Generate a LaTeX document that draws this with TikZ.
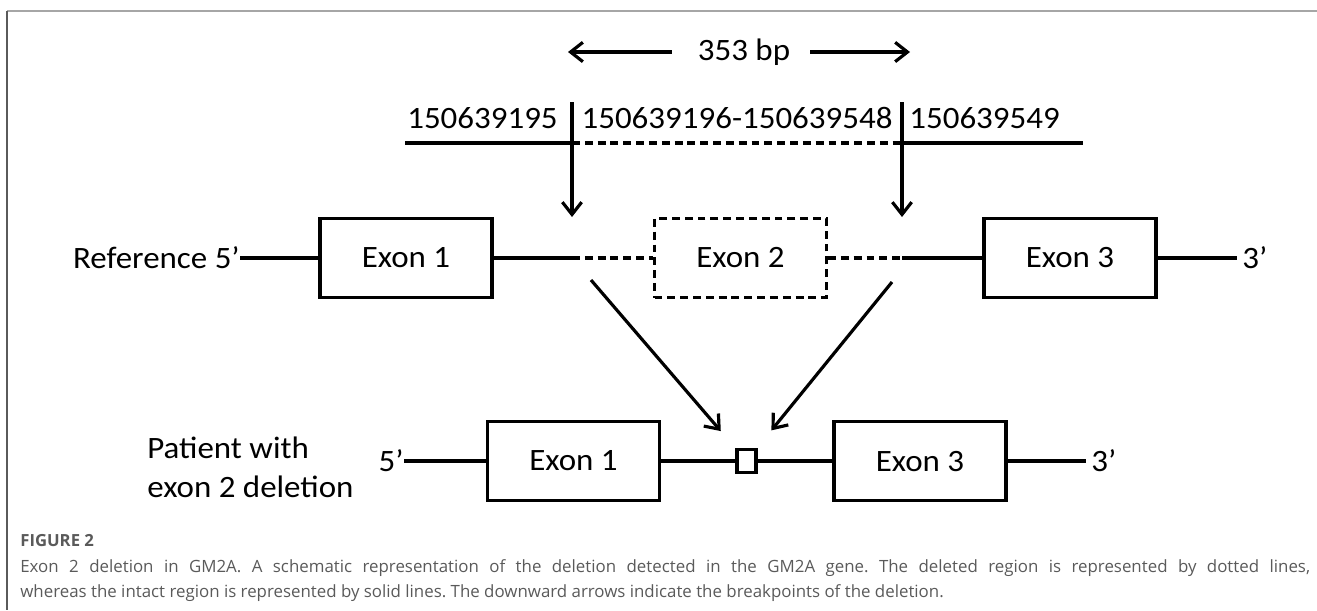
\documentclass[tikz,border=0pt]{standalone}
\usepackage{fontspec}
\setmainfont{Carlito}[FakeStretch=1.06]
\newfontfamily\capfont{Open Sans}
\usetikzlibrary{arrows.meta,positioning}
\newcommand{\exonfont}{\fontsize{17.7}{22}\selectfont}
\definecolor{capgray}{HTML}{5A5A5A}

\begin{document}
\begin{tikzpicture}[x=0.02cm,y=-0.02cm,
  exon/.style={draw,line width=1.8pt,minimum width=3.44cm,minimum height=1.58cm,
               inner sep=0pt,font=\exonfont},
  lost/.style={exon,dash pattern=on 4.5pt off 2.8pt},
  seq/.style={line width=1.8pt},
  gap/.style={seq,dash pattern=on 4.5pt off 2.8pt},
  brk/.style={line width=1.8pt,-{Straight Barb[length=7pt,width=11pt]}},
  lbl/.style={font=\exonfont,inner sep=0pt}
]
\useasboundingbox (0,0) rectangle (1317,610);

% ---- Frame --------------------------------------------------
\draw[gray!70,line width=0.8pt] (7,11) -- (1317,11);
\draw[capgray,line width=0.8pt] (7,11) -- (7,610);

% ---- Span of the deletion -----------------------------------
\node[lbl] (span) at (744,52) {353 bp};
\coordinate (spanL) at (568,52);
\coordinate (spanR) at (910,52);
\draw[brk,shorten <=0.52cm] (span) -- (spanL);
\draw[brk,shorten <=0.4cm] (span) -- (spanR);

% ---- Genomic positions --------------------------------------
\node[lbl,anchor=east] (pos1) at (558,118) {150639195};
\node[lbl] (pos2) at (737,118) {150639196-150639548};
\node[lbl,anchor=west] (pos3) at (909,118) {150639549};
\coordinate (cutL) at (572,102);
\coordinate (cutR) at (902,102);
\coordinate (lineL) at (405,143);
\coordinate (lineR) at (1083,143);
\draw[seq] (lineL) -- (cutL |- lineL);
\draw[gap] (cutL |- lineL) -- (cutR |- lineL);
\draw[seq] (cutR |- lineL) -- (lineR);
\coordinate (tipL) at (572,217);
\coordinate (tipR) at (902,217);
\draw[brk] (cutL) -- (tipL);
\draw[brk] (cutR) -- (tipR);

% ---- Reference ----------------------------------------------
\node[exon] (r1) at (406,258) {Exon 1};
\node[lost] (r2) at (740.5,258) {Exon 2};
\node[exon] (r3) at (1070,258) {Exon 3};
\node[lbl,anchor=east] (ref5) at (240,258) {Reference 5’};
\node[lbl,anchor=west] (ref3) at (1242,258) {3’};
\draw[seq] (ref5) -- (r1);
\draw[seq] (r1) -- (tipL |- r1);
\draw[gap] (tipL |- r1) -- (r2);
\draw[gap] (r2) -- (tipR |- r2);
\draw[seq] (tipR |- r2) -- (r3);
\draw[seq,shorten >=0.1cm] (r3) -- (ref3);

% ---- Patient ------------------------------------------------
\node[exon] (p1) at (573.5,461) {Exon 1};
\node[draw,line width=1.8pt,minimum width=0.38cm,minimum height=0.46cm,
      inner sep=0pt] (del) at (746.5,461) {};
\node[exon] (p3) at (920,461) {Exon 3};
\node[lbl,anchor=east] (pat5) at (404,461) {5’};
\node[lbl,anchor=west] (pat3) at (1091,461) {3’};
\node[lbl,anchor=west,align=left] (pat) at (147,467) {Patient with\\exon 2 deletion};
\draw[seq] (pat5) -- (p1);
\draw[seq] (p1) -- (del);
\draw[seq] (del) -- (p3);
\draw[seq,shorten >=0.1cm] (p3) -- (pat3);

% Joining arrows
\coordinate (dropL) at (591,280);
\coordinate (dropR) at (892,282);
\draw[brk,shorten >=0.79cm] (dropL) -- (del.center);
\draw[brk,shorten >=0.79cm] (dropR) -- (del.center);

% ---- Caption ------------------------------------------------
\node[anchor=west,inner sep=0pt,text=capgray,
      font=\capfont\fontsize{9.5}{11}\selectfont\bfseries] (fig) at (20,541) {FIGURE 2};
\node[anchor=north west,inner sep=0pt,text=capgray,text width=25.8cm,align=justify,
      font=\capfont\fontsize{9.6}{14.5}\selectfont\frenchspacing] (cap) at (20,559)
  {Exon 2 deletion in GM2A. A schematic representation of the deletion detected in the GM2A gene. The deleted region is represented by dotted lines,\linebreak
   whereas the intact region is represented by solid lines. The downward arrows indicate the breakpoints of the deletion.};

\end{tikzpicture}
\end{document}
